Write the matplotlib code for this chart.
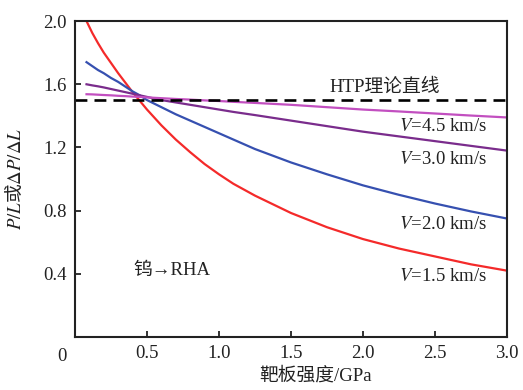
import matplotlib
matplotlib.use("Agg")
import matplotlib.pyplot as plt

plt.rcParams['mathtext.fontset'] = 'stix'
plt.rcParams['font.family'] = ['Liberation Serif', 'Noto Sans CJK SC']

# Target strength (GPa)
strength = [0.08, 0.12, 0.16, 0.2, 0.25, 0.3, 0.35, 0.4, 0.45, 0.5, 0.6, 0.7,
            0.8, 0.9, 1.0, 1.1, 1.25, 1.5, 1.75, 2.0, 2.25, 2.5, 2.75, 3.0]
# P/L for each impact velocity
v15 = [2.00, 1.925, 1.86, 1.80, 1.735, 1.67, 1.61, 1.55, 1.495, 1.44, 1.34,
       1.25, 1.17, 1.095, 1.03, 0.97, 0.895, 0.785, 0.695, 0.62, 0.56, 0.51,
       0.46, 0.42]
v20 = [1.74, 1.715, 1.69, 1.67, 1.64, 1.615, 1.585, 1.555, 1.53, 1.50, 1.455,
       1.41, 1.37, 1.33, 1.29, 1.25, 1.19, 1.105, 1.03, 0.96, 0.90, 0.845,
       0.795, 0.75]
v30 = [1.60, 1.593, 1.587, 1.58, 1.57, 1.56, 1.55, 1.54, 1.53, 1.52, 1.50,
       1.485, 1.47, 1.455, 1.44, 1.425, 1.405, 1.37, 1.335, 1.30, 1.27, 1.24,
       1.21, 1.18]
v45 = [1.537, 1.536, 1.534, 1.532, 1.53, 1.527, 1.525, 1.522, 1.52, 1.517,
       1.512, 1.507, 1.503, 1.498, 1.494, 1.489, 1.482, 1.47, 1.455, 1.44,
       1.428, 1.415, 1.402, 1.39]
htp = 1.5

fig = plt.figure(figsize=(5.23, 3.9), dpi=100)
ax = fig.add_axes([0.1434, 0.1359, 0.826, 0.810])

ax.plot(strength, v15, color='#f42a2a', lw=1.6)
ax.plot(strength, v20, color='#3650b0', lw=1.6)
ax.plot(strength, v30, color='#7a2c8c', lw=1.6)
ax.plot(strength, v45, color='#c24fc0', lw=1.6)
ax.axhline(htp, color='black', lw=1.9, linestyle=(0, (4.5, 2.7)))

ax.set_xlim(0, 3.0)
ax.set_ylim(0, 2.0)
ax.set_xticks([0.5, 1.0, 1.5, 2.0, 2.5, 3.0])
ax.set_xticklabels(['0.5', '1.0', '1.5', '2.0', '2.5', '3.0'])
ax.set_yticks([0.4, 0.8, 1.2, 1.6, 2.0])
ax.set_yticklabels(['0.4', '0.8', '1.2', '1.6', '2.0'])
ax.tick_params(direction='in', length=4, width=1.3, labelsize=13.5,
               colors='#222222', pad=6)
for s in ax.spines.values():
    s.set_linewidth(1.5)
    s.set_color('#222222')

ax.text(-0.02, -0.035, '0', transform=ax.transAxes, fontsize=13.5,
        ha='right', va='top', color='#222222')

ax.set_xlabel('靶板强度/GPa', fontsize=13.5, color='#222222')
ax.xaxis.set_label_coords(0.558, -0.095)
ax.set_ylabel(r'$P/L$或$\Delta P/\Delta L$', fontsize=13.5,
              family='Noto Sans CJK SC', color='#222222')
ax.yaxis.set_label_coords(-0.113, 0.5)

ax.text(2.15, 1.58, 'HTP理论直线', fontsize=13.5, ha='center', va='center',
        color='#222222')
ax.text(2.86, 1.335, r'$V$=4.5 km/s', fontsize=13.5, ha='right',
        va='center', color='#222222')
ax.text(2.86, 1.125, r'$V$=3.0 km/s', fontsize=13.5, ha='right',
        va='center', color='#222222')
ax.text(2.86, 0.71, r'$V$=2.0 km/s', fontsize=13.5, ha='right',
        va='center', color='#222222')
ax.text(2.86, 0.38, r'$V$=1.5 km/s', fontsize=13.5, ha='right',
        va='center', color='#222222')
ax.text(0.675, 0.42, '钨→RHA', fontsize=13.5, ha='center', va='center',
        color='#222222')

fig.savefig('out.png', dpi=100)
